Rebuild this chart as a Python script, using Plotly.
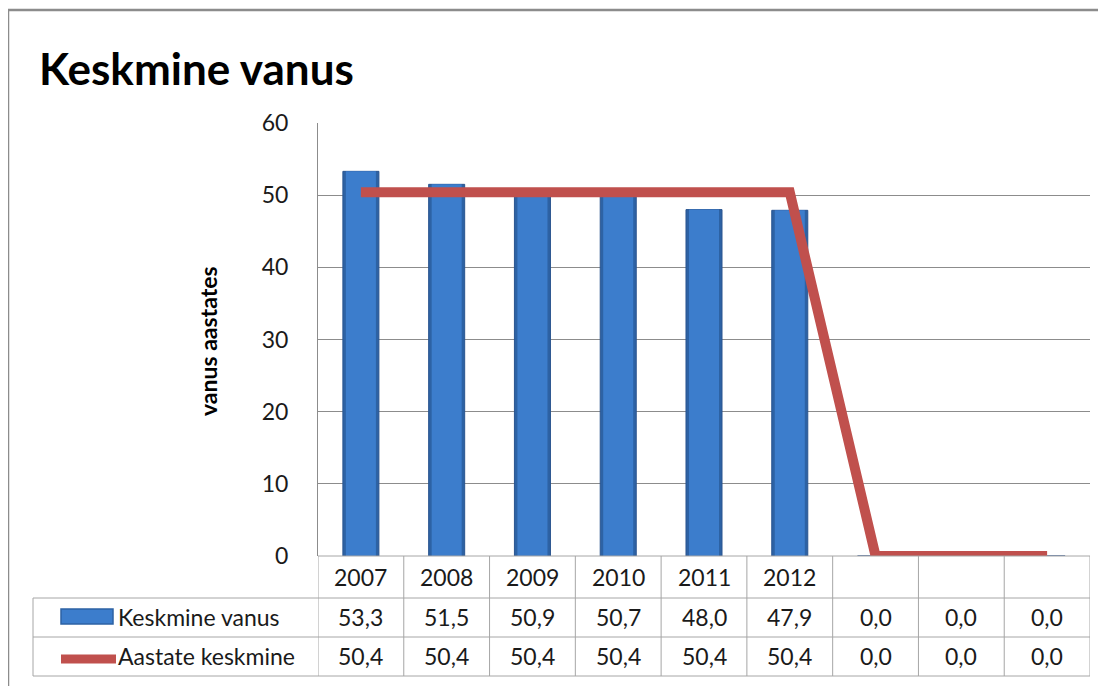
import plotly.graph_objects as go

# ---- data ----
categories = ["2007", "2008", "2009", "2010", "2011", "2012", "", "", ""]
keskmine_vanus = [53.3, 51.5, 50.9, 50.7, 48.0, 47.9, 0.0, 0.0, 0.0]
aastate_keskmine = [50.4, 50.4, 50.4, 50.4, 50.4, 50.4, 0.0, 0.0, 0.0]
series_names = ["Keskmine vanus", "Aastate keskmine"]
y_ticks = [0, 10, 20, 30, 40, 50, 60]
title_text = "Keskmine vanus"
y_title = "vanus aastates"

FONT = "Lato"
OFF = 8  # page body margin
W, H = 1106 - OFF, 686 - OFF
L, R, T, B = 318 - OFF, 16, 123 - OFF, 130
PW, PH = W - L - R, H - T - B


def px_x(px):
    return (px - OFF - L) / PW


def px_y(py):
    return (H - B - (py - OFF)) / PH


xs = list(range(len(categories)))

fig = go.Figure()
fig.add_trace(go.Bar(
    x=xs, y=keskmine_vanus, width=0.42,
    marker=dict(color="#2D62A4", line=dict(color="#2A5590", width=1)),
    hoverinfo="skip", showlegend=False))
fig.add_trace(go.Bar(
    x=xs, y=keskmine_vanus, width=0.35,
    marker=dict(color="#3C7DCC", line=dict(width=0)),
    name=series_names[0], showlegend=False))
fig.add_trace(go.Scatter(
    x=xs, y=aastate_keskmine, mode="lines",
    line=dict(color="#C0504D", width=10, shape="linear"),
    name=series_names[1], showlegend=False))

shapes = []
ann = []
grey = "#A6A6A6"

# outer chart border (left and top edges visible)
shapes.append(dict(type="rect", xref="paper", yref="paper",
                   x0=px_x(8), x1=px_x(1130), y0=px_y(720), y1=px_y(10),
                   line=dict(color="#8C8C8C", width=2.5), layer="below"))

# table lines
y_rows = [556, 598, 637, 676]
n = len(categories)
for i in range(n + 1):
    shapes.append(dict(type="line", xref="x", yref="paper",
                       x0=i - 0.5, x1=i - 0.5, y0=px_y(556), y1=px_y(676),
                       line=dict(color=grey, width=1)))
shapes.append(dict(type="line", xref="paper", yref="paper",
                   x0=px_x(33), x1=px_x(33), y0=px_y(598), y1=px_y(676),
                   line=dict(color=grey, width=1)))
shapes.append(dict(type="line", xref="x", yref="paper",
                   x0=-0.5, x1=n - 0.5, y0=px_y(556), y1=px_y(556),
                   line=dict(color=grey, width=1)))
for yy in y_rows[1:]:
    shapes.append(dict(type="line", xref="paper", yref="paper",
                       x0=px_x(33), x1=1, y0=px_y(yy), y1=px_y(yy),
                       line=dict(color=grey, width=1)))

# legend icons
shapes.append(dict(type="rect", xref="paper", yref="paper",
                   x0=px_x(61), x1=px_x(113), y0=px_y(624), y1=px_y(609),
                   fillcolor="#3C7DCC", line=dict(color="#2D62A4", width=1.5)))
shapes.append(dict(type="line", xref="paper", yref="paper",
                   x0=px_x(61), x1=px_x(116), y0=px_y(659), y1=px_y(659),
                   line=dict(color="#C0504D", width=9)))

cell_font = dict(family=FONT, size=23, color="#1a1a1a")
for i, c in enumerate(categories):
    for yy, txt in ((577, c),
                    (617, f"{keskmine_vanus[i]:.1f}".replace(".", ",")),
                    (656, f"{aastate_keskmine[i]:.1f}".replace(".", ","))):
        ann.append(dict(x=i, y=px_y(yy), xref="x", yref="paper", text=txt,
                        showarrow=False, xanchor="center", yanchor="middle",
                        font=cell_font))

for yy, name in ((617, series_names[0]), (656, series_names[1])):
    ann.append(dict(x=px_x(116), y=px_y(yy), xref="paper", yref="paper",
                    text=name, showarrow=False, xanchor="left",
                    yanchor="middle", font=cell_font))

# title and axis title
ann.append(dict(x=px_x(37), y=px_y(68), xref="paper", yref="paper",
                text=f"<b>{title_text}</b>", showarrow=False, xanchor="left",
                yanchor="middle", font=dict(family=FONT, size=44, color="#000")))
ann.append(dict(x=px_x(208), y=px_y(341), xref="paper", yref="paper",
                text=f"<b>{y_title}</b>", showarrow=False, textangle=-90,
                xanchor="center", yanchor="middle",
                font=dict(family=FONT, size=23, color="#000")))

fig.update_layout(
    width=W, height=H,
    margin=dict(l=L, r=R, t=T, b=B, pad=0),
    paper_bgcolor="white", plot_bgcolor="white",
    barmode="overlay",
    shapes=shapes, annotations=ann,
    showlegend=False,
    xaxis=dict(range=[-0.5, n - 0.5], showticklabels=False, showgrid=False,
               zeroline=False, showline=False, ticks="", fixedrange=True),
    yaxis=dict(range=[0, 60], tickvals=y_ticks, showgrid=True,
               gridcolor="#8C8C8C", gridwidth=1, zeroline=False,
               showline=True, linecolor="#8C8C8C", linewidth=1,
               ticks="", ticklabelstandoff=24,
               tickfont=dict(family=FONT, size=23, color="#1a1a1a")),
)

fig.write_html("out.html")
